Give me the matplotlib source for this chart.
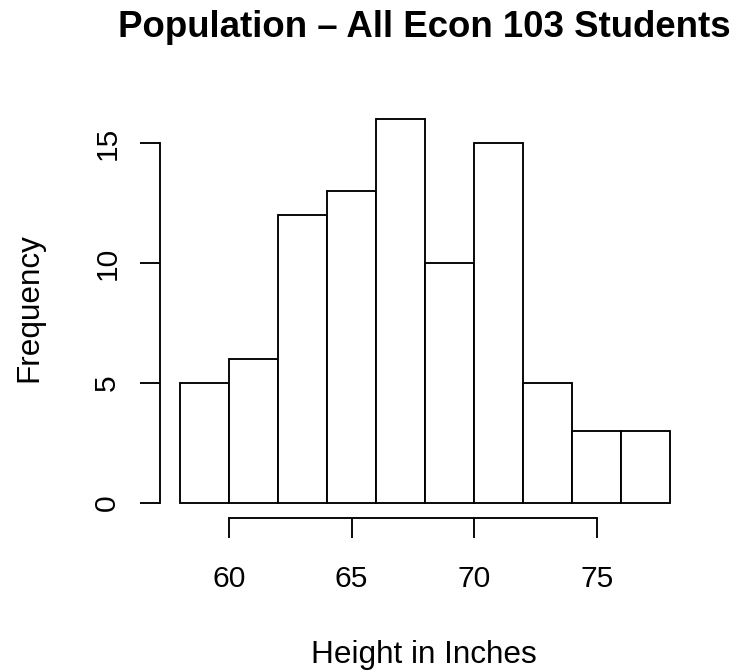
import numpy as np
import matplotlib
matplotlib.use("Agg")
import matplotlib.pyplot as plt

# histogram of student heights (bin edges in inches, counts per bin)
bin_edges = [58, 60, 62, 64, 66, 68, 70, 72, 74, 76, 78]
counts = [5, 6, 12, 13, 16, 10, 15, 5, 3, 3]
x_ticks = [60, 65, 70, 75]
y_ticks = [0, 5, 10, 15]

W, H = 741, 671
DPI = 100
PX = 72 / DPI  # points per pixel
LW = 1.875 * PX

plt.rcParams["font.family"] = ["Liberation Sans", "DejaVu Sans"]

fig = plt.figure(figsize=(W / DPI, H / DPI), dpi=DPI, facecolor="white")

# plot region in pixels
left, right, top, bottom = 160.3, 690.0, 103.6, 518.4
ax = fig.add_axes([left / W, 1 - bottom / H, (right - left) / W, (bottom - top) / H])

edges = np.array(bin_edges, dtype=float)
ax.bar(edges[:-1], counts, width=np.diff(edges), align="edge",
       facecolor="white", edgecolor="black", linewidth=LW)

# R style: 4% padding around the data range
xr = edges[-1] - edges[0]
ax.set_xlim(edges[0] - 0.04 * xr, edges[-1] + 0.04 * xr)
ymax = max(counts)
ax.set_ylim(-0.04 * ymax, ymax * 1.04)

for side in ["top", "right"]:
    ax.spines[side].set_visible(False)
ax.spines["bottom"].set_bounds(x_ticks[0], x_ticks[-1])
ax.spines["left"].set_bounds(y_ticks[0], y_ticks[-1])
for side in ["bottom", "left"]:
    ax.spines[side].set_linewidth(LW)
    ax.spines[side].set_capstyle("projecting")

fs = 30 * PX
ax.set_xticks(x_ticks)
ax.set_xticklabels([str(t) for t in x_ticks])
ax.set_yticks(y_ticks)
ax.set_yticklabels([str(t) for t in y_ticks], rotation=90,
                   rotation_mode="anchor", ha="center", va="baseline")
ax.tick_params(axis="both", direction="out", length=20 * PX, width=LW,
               labelsize=fs, colors="black")
ax.tick_params(axis="x", pad=27 * PX)
ax.tick_params(axis="y", pad=25 * PX)

lab_fs = 31.5 * PX
fig.text(424 / W, 1 - 663.3 / H, "Height in Inches",
         ha="center", va="baseline", fontsize=lab_fs)
fig.text(37 / W, 1 - 308 / H, "Frequency", rotation=90,
         rotation_mode="anchor", ha="center", va="baseline", fontsize=lab_fs)
fig.text(424.5 / W, 1 - 36.7 / H,
         "Population \u2013 All Econ 103 Students",
         ha="center", va="baseline", fontsize=36.6 * PX, fontweight="bold")

fig.savefig("out.png", dpi=DPI, facecolor="white")
